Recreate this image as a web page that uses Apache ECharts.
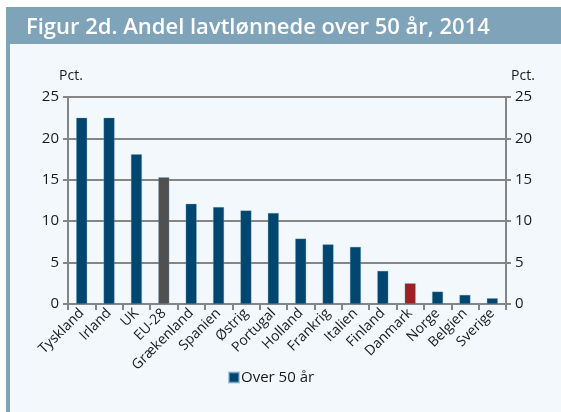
<!DOCTYPE html>
<html>
<head>
<meta charset="utf-8">
<script src="https://cdn.jsdelivr.net/npm/echarts@6/dist/echarts.min.js"></script>
<style>
  html, body { margin: 0; padding: 0; background: #ffffff; }
  #main { width: 561px; height: 412px; }
</style>
</head>
<body>
<div id="main"></div>
<script>
// data
var categories = ['Tyskland', 'Irland', 'UK', 'EU-28', 'Grækenland', 'Spanien', 'Østrig', 'Portugal',
  'Holland', 'Frankrig', 'Italien', 'Finland', 'Danmark', 'Norge', 'Belgien', 'Sverige'];
var values = [22.5, 22.5, 18.1, 15.3, 12.1, 11.7, 11.3, 11.0, 7.9, 7.2, 6.9, 4.0, 2.5, 1.5, 1.1, 0.7];
var seriesName = 'Over 50 år';
var yTicks = { min: 0, max: 25, interval: 5 };

var myChart = echarts.init(document.getElementById('main'));

var fontFam = 'Open Sans';
var barData = values.map(function (v, i) {
  var c = '#00466e';
  if (categories[i] === 'EU-28') c = '#505050';
  if (categories[i] === 'Danmark') c = '#a01f25';
  return { value: v, itemStyle: { color: c } };
});

var yAxisBase = function (pos) {
  return {
    type: 'value',
    position: pos,
    min: yTicks.min,
    max: yTicks.max,
    interval: yTicks.interval,
    name: 'Pct.',
    nameLocation: 'end',
    nameGap: 14,
    nameTextStyle: { color: '#1a1a1a', fontSize: 14, fontFamily: fontFam, align: 'center', padding: pos === 'left' ? [0, 0, 0, 6] : [0, 0, 0, 34] },
    axisLine: { show: true, lineStyle: { color: '#858585', width: 2 } },
    axisTick: { show: true, length: 5, lineStyle: { color: '#858585', width: 2 } },
    axisLabel: { color: '#1a1a1a', fontSize: 15, fontFamily: fontFam, margin: 9 },
    splitLine: { show: pos === 'left', lineStyle: { color: '#858585', width: 2 } }
  };
};

var option = {
  backgroundColor: '#ffffff',
  animation: false,
  graphic: [
    { type: 'rect', shape: { x: 6, y: 7, width: 555, height: 405 }, style: { fill: '#f3f8fc' }, z: -10 },
    { type: 'rect', shape: { x: 6, y: 7, width: 555, height: 37 }, style: { fill: '#7fa3b8' }, z: -9 },
    { type: 'rect', shape: { x: 6, y: 7, width: 4, height: 405 }, style: { fill: '#7fa3b8' }, z: -9 }
  ],
  title: {
    text: 'Figur 2d. Andel lavtlønnede over 50 år, 2014',
    left: 21,
    top: 12,
    textStyle: { color: '#ffffff', fontSize: 22, fontWeight: 600, fontFamily: fontFam }
  },
  legend: {
    left: 223,
    top: 365,
    itemWidth: 10,
    itemHeight: 10,
    itemGap: 4,
    icon: 'rect',
    textStyle: { color: '#1a1a1a', fontSize: 15, fontFamily: fontFam, padding: [0, 0, 0, -3] },
    data: [seriesName]
  },
  grid: { left: 68, right: 55, top: 97, bottom: 108 },
  xAxis: {
    type: 'category',
    data: categories,
    boundaryGap: true,
    axisLine: { lineStyle: { color: '#858585', width: 2 } },
    axisTick: { show: true, length: 6, alignWithLabel: false, lineStyle: { color: '#858585', width: 2 } },
    axisLabel: { rotate: 45, interval: 0, color: '#1a1a1a', fontSize: 14, fontFamily: fontFam, margin: 7 }
  },
  yAxis: [yAxisBase('left'), yAxisBase('right')],
  series: [{
    name: seriesName,
    type: 'bar',
    data: barData,
    barWidth: 11,
    itemStyle: { color: '#00466e', borderColor: 'rgba(120,170,200,0.6)', borderWidth: 0.5 }
  }]
};

myChart.setOption(option);
</script>
</body>
</html>
